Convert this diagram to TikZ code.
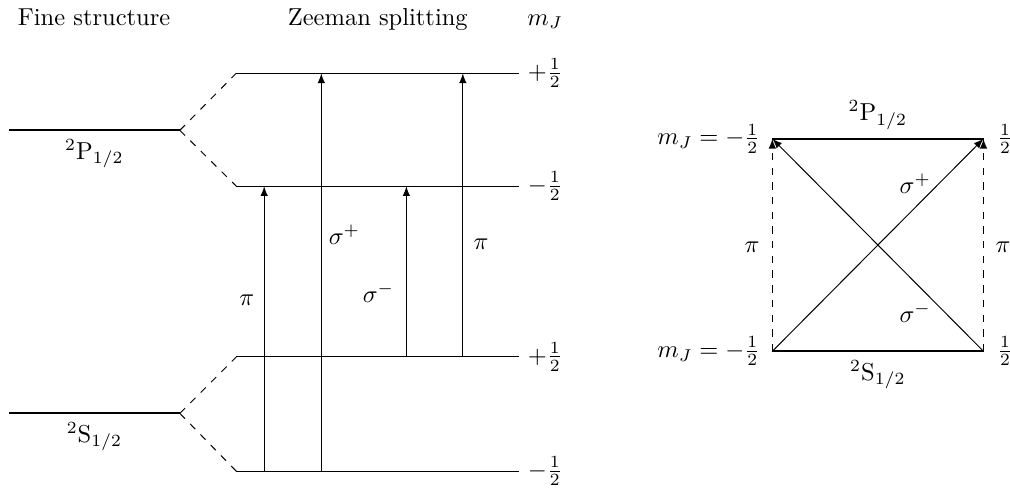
\documentclass[tikz,border=0pt]{standalone}
\begin{document}
\begin{tikzpicture}[
   x=1cm,y=1cm,
   >=latex,
   level/.style={thick},
   split/.style={dashed},
   trans/.style={->},
   head/.style={anchor=base}
 ]
  \useasboundingbox (0,0) rectangle (14.49,-7.00);

  % headings
  \node[head] (fs) at (1.35,-0.36) {Fine structure};
  \node[head] (zs) at (5.42,-0.36) {Zeeman splitting};
  \node[head] (mj) at (7.82,-0.36) {$m_J$};

  % fine structure levels
  \coordinate (p0l) at (0.13,-1.87);
  \coordinate (p0) at (2.58,-1.87);
  \coordinate (s0l) at (0.13,-5.93);
  \coordinate (s0) at (2.58,-5.93);
  \draw[level] (p0l) -- (p0) node[midway,below] (plab) {$^2\mathrm{P}_{1/2}$};
  \draw[level] (s0l) -- (s0) node[midway,below] (slab) {$^2\mathrm{S}_{1/2}$};

  % Zeeman sublevels
  \coordinate (pul) at (3.39,-1.05);
  \coordinate (pur) at (7.45,-1.05);
  \coordinate (pdl) at (3.39,-2.67);
  \coordinate (pdr) at (7.45,-2.67);
  \coordinate (sul) at (3.39,-5.12);
  \coordinate (sur) at (7.45,-5.12);
  \coordinate (sdl) at (3.39,-6.76);
  \coordinate (sdr) at (7.45,-6.76);
  \draw (pul) -- (pur) node[right] (mpu) {$+\frac{1}{2}$};
  \draw (pdl) -- (pdr) node[right] (mpd) {$-\frac{1}{2}$};
  \draw (sul) -- (sur) node[right] (msu) {$+\frac{1}{2}$};
  \draw (sdl) -- (sdr) node[right] (msd) {$-\frac{1}{2}$};
  \draw[split] (p0) -- (pul);
  \draw[split] (p0) -- (pdl);
  \draw[split] (s0) -- (sul);
  \draw[split] (s0) -- (sdl);

  % transitions
  \coordinate (t1a) at (3.79,-6.76);
  \coordinate (t1b) at (3.79,-2.67);
  \coordinate (t2a) at (4.61,-6.76);
  \coordinate (t2b) at (4.61,-1.05);
  \coordinate (t3a) at (5.83,-5.12);
  \coordinate (t3b) at (5.83,-2.67);
  \coordinate (t4a) at (6.64,-5.12);
  \coordinate (t4b) at (6.64,-1.05);
  \draw[trans] (t1a) -- (t1b);
  \draw[trans] (t2a) -- (t2b);
  \draw[trans] (t3a) -- (t3b);
  \draw[trans] (t4a) -- (t4b);
  \node (pi1) at (3.54,-4.31) {$\pi$};
  \node (sp1) at (4.94,-3.37) {$\sigma^+$};
  \node (sm1) at (5.43,-4.20) {$\sigma^-$};
  \node (pi2) at (6.90,-3.50) {$\pi$};

  % right scheme
  \coordinate (pl) at (11.08,-1.99);
  \coordinate (pr) at (14.11,-1.99);
  \coordinate (sl) at (11.08,-5.04);
  \coordinate (sr) at (14.11,-5.04);
  \draw[level] (pl) -- (pr) node[midway,above] (plab2) {$^2\mathrm{P}_{1/2}$};
  \draw[level] (sl) -- (sr) node[midway,below] (slab2) {$^2\mathrm{S}_{1/2}$};
  \draw[trans,split] (sl) -- (pl);
  \draw[trans,split] (sr) -- (pr);
  \draw[trans] (sl) -- (pr);
  \draw[trans] (sr) -- (pl);
  \node[left,xshift=-1.5pt] (mjl1) at (pl) {$m_J = -\frac{1}{2}$};
  \node[left,xshift=-1.5pt] (mjl2) at (sl) {$m_J = -\frac{1}{2}$};
  \node[right,xshift=2pt] (mjr1) at (pr) {$\frac{1}{2}$};
  \node[right,xshift=2pt] (mjr2) at (sr) {$\frac{1}{2}$};
  \node (pi3) at (10.79,-3.54) {$\pi$};
  \node (pi4) at (14.39,-3.54) {$\pi$};
  \node (sp2) at (13.13,-2.63) {$\sigma^+$};
  \node (sm2) at (13.13,-4.49) {$\sigma^-$};
\end{tikzpicture}
\end{document}
